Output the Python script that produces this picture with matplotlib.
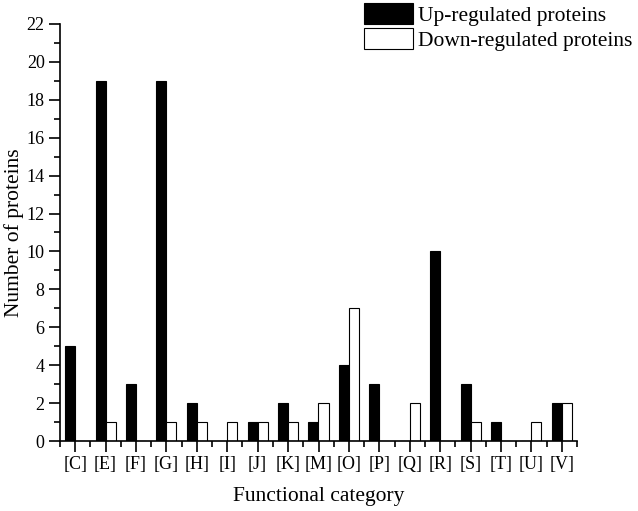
import matplotlib
matplotlib.use("Agg")
import matplotlib.pyplot as plt
import numpy as np
from matplotlib.ticker import MultipleLocator, FixedLocator

plt.rcParams['font.family'] = ['Liberation Serif', 'DejaVu Serif']

categories = ['[C]', '[E]', '[F]', '[G]', '[H]', '[I]', '[J]', '[K]', '[M]',
              '[O]', '[P]', '[Q]', '[R]', '[S]', '[T]', '[U]', '[V]']
up_values = [5, 19, 3, 19, 2, 0, 1, 2, 1, 4, 3, 0, 10, 3, 1, 0, 2]
down_values = [0, 1, 0, 1, 1, 1, 1, 1, 2, 7, 0, 2, 0, 1, 0, 1, 2]

fig = plt.figure(figsize=(6.38, 5.11), dpi=100)
ax = fig.add_axes([60/638, 1-441/511, (577-60)/638, (441-24)/511])

x = np.arange(len(categories))
w = 0.33
ax.bar(x - w/2, up_values, width=w, color='black', edgecolor='black', linewidth=0.8,
       label='Up-regulated proteins')
ax.bar(x + w/2, down_values, width=w, color='white', edgecolor='black', linewidth=0.8,
       label='Down-regulated proteins')

ax.set_xlim(-0.5, len(categories) - 0.5)
ax.set_ylim(0, 22)
ax.set_xticks(x)
ax.set_xticklabels(categories, fontsize=13)
ax.xaxis.set_minor_locator(FixedLocator(np.arange(-0.5, len(categories), 1.0)))
ax.yaxis.set_major_locator(MultipleLocator(2))
ax.yaxis.set_minor_locator(MultipleLocator(1))
ax.tick_params(axis='y', labelsize=13)
ax.tick_params(which='major', direction='out', length=8, width=1.2, pad=3)
ax.tick_params(which='minor', direction='out', length=4, width=1.2)

for s in ['top', 'right']:
    ax.spines[s].set_visible(False)
for s in ['left', 'bottom']:
    ax.spines[s].set_linewidth(1.2)

ax.set_xlabel('Functional category', fontsize=15.5, labelpad=10)
ax.set_ylabel('Number of proteins', fontsize=15.5, labelpad=2)

fig.legend(loc='upper left', bbox_to_anchor=(364/638, 1-3/511), frameon=False,
           fontsize=15.5, handlelength=2.28, handleheight=1.1, handletextpad=0.25,
           labelspacing=0.12, borderpad=0, borderaxespad=0)

fig.savefig('out.png', dpi=100)
